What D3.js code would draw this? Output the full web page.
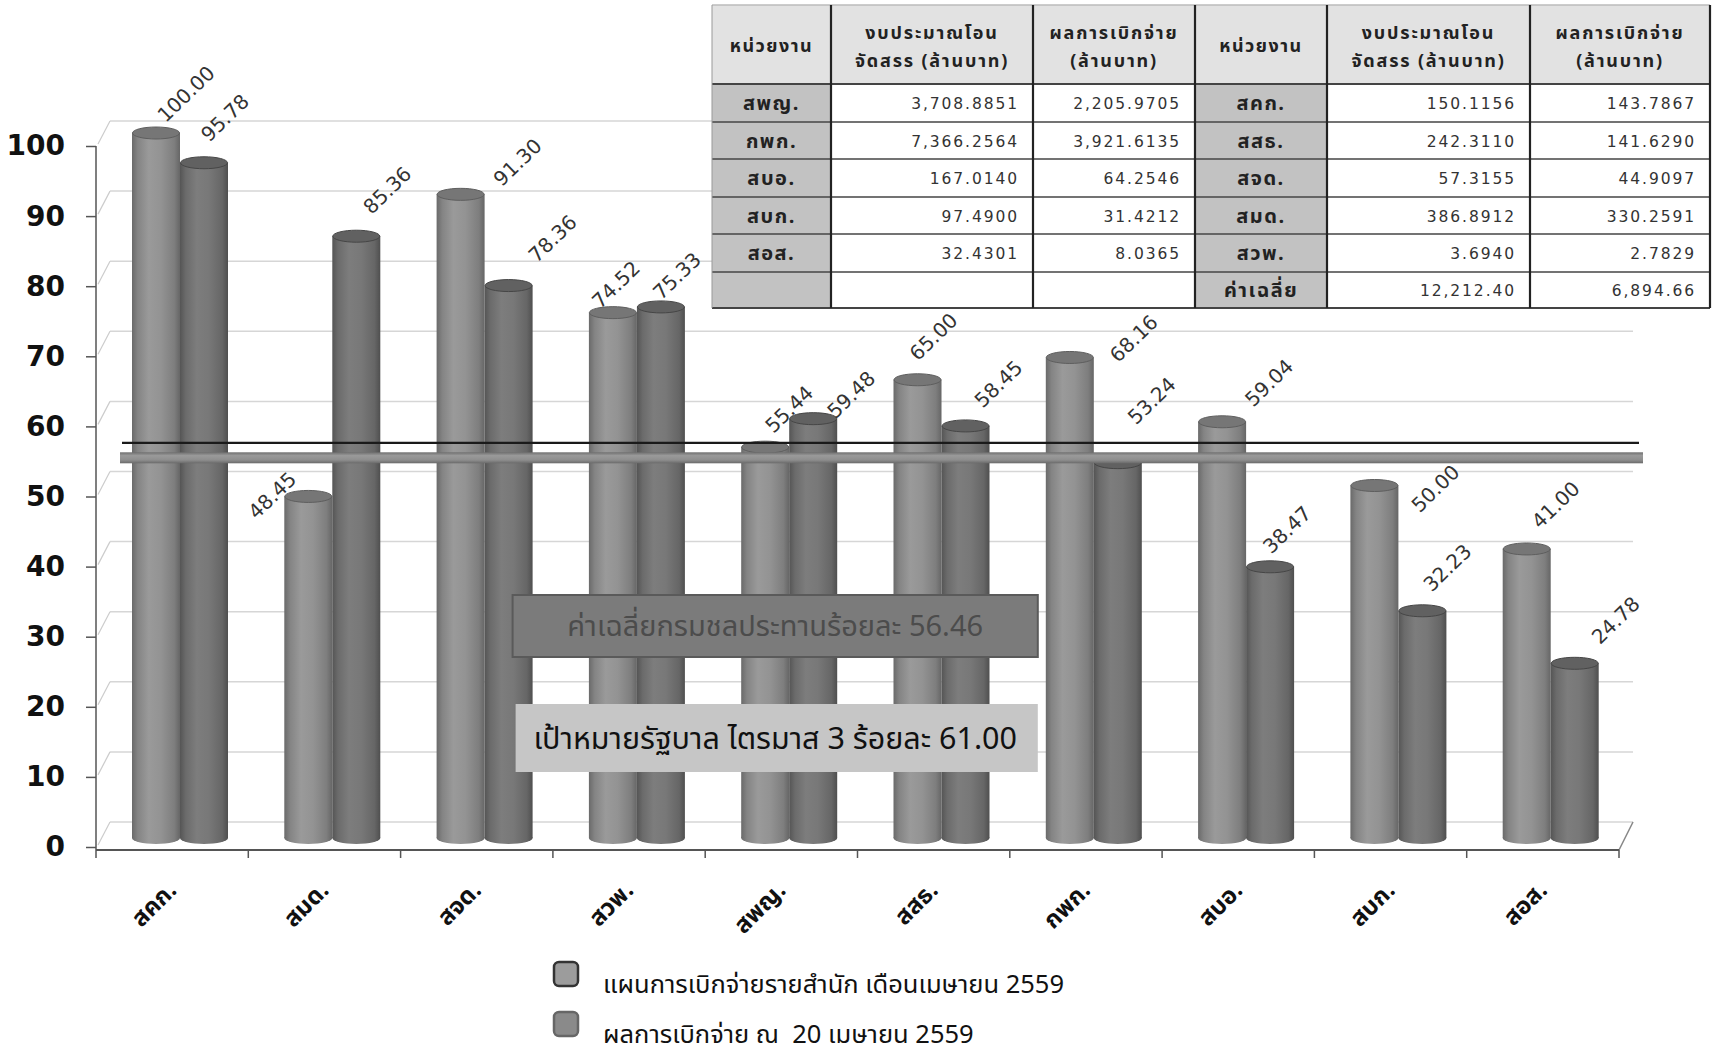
<!DOCTYPE html>
<html>
<head>
<meta charset="utf-8">
<script src="https://cdn.jsdelivr.net/npm/d3@7"></script>
<style>
  html, body { margin: 0; padding: 0; background: #ffffff; }
  svg { display: block; }
  .pre { white-space: pre; }
</style>
</head>
<body>
<svg id="chart" width="1717" height="1057"></svg>
<script>
// ---------------- DATA ----------------
const categories = ['สคก.', 'สมด.', 'สจด.', 'สวพ.', 'สพญ.', 'สสธ.', 'กพก.', 'สบอ.', 'สบก.', 'สอส.'];
const planValues = [100.00, 48.45, 91.30, 74.52, 55.44, 65.00, 68.16, 59.04, 50.00, 41.00];
const actualValues = [95.78, 85.36, 78.36, 75.33, 59.48, 58.45, 53.24, 38.47, 32.23, 24.78];
const yTickValues = [0, 10, 20, 30, 40, 50, 60, 70, 80, 90, 100];
const seriesNames = ['แผนการเบิกจ่ายรายสำนัก เดือนเมษายน 2559', 'ผลการเบิกจ่าย ณ  20 เมษายน 2559'];
const averageLineValue = 56.46;
const thickLineValue = 54.0;
const averageText = 'ค่าเฉลี่ยกรมชลประทานร้อยละ 56.46';
const targetText = 'เป้าหมายรัฐบาล ไตรมาส 3 ร้อยละ 61.00';

const tableHeaderUnit = 'หน่วยงาน';
const tableHeaderBudget = ['งบประมาณโอน', 'จัดสรร (ล้านบาท)'];
const tableHeaderPaid = ['ผลการเบิกจ่าย', '(ล้านบาท)'];
const tableUnitsLeft = ['สพญ.', 'กพก.', 'สบอ.', 'สบก.', 'สอส.', ''];
const tableBudgetLeft = ['3,708.8851', '7,366.2564', '167.0140', '97.4900', '32.4301', ''];
const tablePaidLeft = ['2,205.9705', '3,921.6135', '64.2546', '31.4212', '8.0365', ''];
const tableUnitsRight = ['สคก.', 'สสธ.', 'สจด.', 'สมด.', 'สวพ.', 'ค่าเฉลี่ย'];
const tableBudgetRight = ['150.1156', '242.3110', '57.3155', '386.8912', '3.6940', '12,212.40'];
const tablePaidRight = ['143.7867', '141.6290', '44.9097', '330.2591', '2.7829', '6,894.66'];

// ---------------- LAYOUT / STYLE ----------------
const THAI = "Tahoma, 'Noto Sans Thai', 'Noto Sans Thai UI', Loma, Garuda, 'Noto Sans', 'DejaVu Sans', sans-serif";
const NUM = "'DejaVu Sans', Verdana, sans-serif";
const svg = d3.select('#chart');
const depth = { dx: 14, dy: -25 };

const x = d3.scaleBand().domain(categories).range([96, 1619]).paddingInner(0).paddingOuter(0);
const y = d3.scaleLinear().domain([0, 100]).range([847, 146]);
// bars sit half-way into the 3D depth (slight perspective enlargement)
const yBar = d3.scaleLinear().domain([0, 100]).range([838, 133]);
const sub = d3.scaleBand().domain(['plan', 'actual']).range([36, 132]);

const defs = svg.append('defs');
function cylGrad(id, stops) {
  const g = defs.append('linearGradient').attr('id', id).attr('x1', '0%').attr('x2', '100%').attr('y1', '0%').attr('y2', '0%');
  stops.forEach(s => g.append('stop').attr('offset', s[0]).attr('stop-color', s[1]));
}
cylGrad('gPlan', [[0, '#6a6a6a'], [0.12, '#848484'], [0.35, '#9a9a9a'], [0.6, '#939393'], [0.88, '#7e7e7e'], [1, '#666666']]);
cylGrad('gActual', [[0, '#555555'], [0.12, '#6b6b6b'], [0.35, '#7d7d7d'], [0.6, '#787878'], [0.88, '#666666'], [1, '#4f4f4f']]);
const vg = defs.append('linearGradient').attr('id', 'gThick').attr('x1', '0%').attr('x2', '0%').attr('y1', '0%').attr('y2', '100%');
[[0, '#6f6f6f'], [0.3, '#9a9a9a'], [0.7, '#8e8e8e'], [1, '#6a6a6a']].forEach(s => vg.append('stop').attr('offset', s[0]).attr('stop-color', s[1]));

// ---------------- GRID (3D back wall) ----------------
const grid = svg.append('g');
const x0 = x.range()[0], x1 = x.range()[1];
yTickValues.forEach(v => {
  grid.append('line').attr('x1', x0 + depth.dx).attr('x2', x1 + depth.dx)
    .attr('y1', y(v) + depth.dy).attr('y2', y(v) + depth.dy)
    .attr('stroke', '#d6d6d6').attr('stroke-width', 1.5);
  grid.append('line').attr('x1', x0 + 2).attr('x2', x0 + depth.dx)
    .attr('y1', y(v) - 2).attr('y2', y(v) + depth.dy)
    .attr('stroke', '#cccccc').attr('stroke-width', 1.2);
});
grid.append('line').attr('x1', x1).attr('x2', x1 + depth.dx)
  .attr('y1', y(0) + 3).attr('y2', y(0) + depth.dy)
  .attr('stroke', '#888').attr('stroke-width', 1.5);

// ---------------- AXES ----------------
const yAxis = svg.append('g').attr('transform', `translate(${x0},0)`)
  .call(d3.axisLeft(y).tickValues(yTickValues).tickSize(10).tickPadding(21).tickFormat(d3.format('d')));
yAxis.select('.domain').attr('stroke', '#555').attr('stroke-width', 1.5).attr('d', `M-0,${y(100)}V${y(0) + 3}`);
yAxis.selectAll('.tick line').attr('stroke', '#555').attr('stroke-width', 1.5);
yAxis.selectAll('.tick text').attr('font-family', "'DejaVu Sans', sans-serif").attr('font-weight', 'bold')
  .attr('font-size', 28).attr('fill', '#111');

const xAxisG = svg.append('g').attr('transform', `translate(0,${y(0) + 3})`);
xAxisG.append('line').attr('x1', x0).attr('x2', x1).attr('stroke', '#555').attr('stroke-width', 2);
xAxisG.selectAll('line.tk').data(categories.concat([null])).join('line').attr('class', 'tk')
  .attr('x1', (d, i) => x0 + i * x.bandwidth()).attr('x2', (d, i) => x0 + i * x.bandwidth())
  .attr('y1', 0).attr('y2', 8).attr('stroke', '#555').attr('stroke-width', 1.5);
xAxisG.selectAll('text.cat').data(categories).join('text').attr('class', 'cat')
  .attr('transform', d => `translate(${x(d) + x.bandwidth() / 2 + 1},${37}) rotate(-45)`)
  .attr('text-anchor', 'end').attr('dominant-baseline', 'middle')
  .attr('font-family', THAI).attr('font-weight', 'bold').attr('font-size', 24).attr('fill', '#111')
  .text(d => d);

// ---------------- BARS (cylinders) ----------------
const ry = 6;
const series = [
  { key: 'plan', values: planValues, grad: 'url(#gPlan)', cap: '#767676', capEdge: '#5e5e5e' },
  { key: 'actual', values: actualValues, grad: 'url(#gActual)', cap: '#616161', capEdge: '#464646' }
];
const barsG = svg.append('g');
categories.forEach((c, i) => {
  series.forEach(s => {
    const v = s.values[i];
    const cx = x(c) + sub(s.key) + sub.bandwidth() / 2;
    const rx = sub.bandwidth() / 2;
    const yt = yBar(v), yb = yBar(0);
    const g = barsG.append('g');
    g.append('ellipse').attr('cx', cx).attr('cy', yb).attr('rx', rx).attr('ry', ry).attr('fill', s.grad);
    g.append('rect').attr('x', cx - rx).attr('y', yt).attr('width', rx * 2).attr('height', yb - yt).attr('fill', s.grad);
    g.append('ellipse').attr('cx', cx).attr('cy', yt).attr('rx', rx - 0.5).attr('ry', ry)
      .attr('fill', s.cap).attr('stroke', s.capEdge).attr('stroke-width', 1);
  });
});

// ---------------- REFERENCE LINES ----------------
svg.append('rect').attr('x', x0 + 24).attr('width', x1 + 24 - (x0 + 24)).attr('y', yBar(thickLineValue) - 5).attr('height', 11)
  .attr('fill', 'url(#gThick)');
svg.append('line').attr('x1', x0 + 26).attr('x2', x1 + 20).attr('y1', yBar(averageLineValue) + 3).attr('y2', yBar(averageLineValue) + 3)
  .attr('stroke', '#1a1a1a').attr('stroke-width', 2.2);

// ---------------- DATA LABELS ----------------
const nudgePlan = [[30, -33], [-36, 5], [57, -26], [3, -22], [24, -32], [16, -37], [64, -13], [47, -33], [61, 9], [29, -38]];
const nudgeActual = [[21, -39], [31, -40], [44, -41], [16, -25], [38, -18], [33, -36], [34, -56], [17, -31], [25, -37], [41, -37]];
const lblG = svg.append('g');
categories.forEach((c, i) => {
  series.forEach(s => {
    const v = s.values[i];
    const cx = x(c) + sub(s.key) + sub.bandwidth() / 2;
    const top = yBar(v) - ry;
    const n = (s.key === 'plan' ? nudgePlan : nudgeActual)[i];
    lblG.append('text')
      .attr('transform', `translate(${cx + n[0]},${top + n[1]}) rotate(-44)`)
      .attr('text-anchor', 'middle').attr('dominant-baseline', 'central')
      .attr('font-family', NUM).attr('font-size', 20).attr('fill', '#333')
      .text(d3.format('.2f')(v));
  });
});

// ---------------- ANNOTATION BOXES ----------------
const boxX = x(categories[2]) + 112, boxW = x(categories[6]) + 28 - boxX;
svg.append('rect').attr('x', boxX).attr('y', 595).attr('width', boxW).attr('height', 62)
  .attr('fill', '#7b7b7b').attr('stroke', '#5a5a5a').attr('stroke-width', 2);
svg.append('text').attr('x', boxX + boxW / 2).attr('y', 627).attr('text-anchor', 'middle').attr('dominant-baseline', 'central')
  .attr('font-family', THAI).attr('font-size', 29).attr('fill', '#4c4c4c').text(averageText);
svg.append('rect').attr('x', boxX + 3).attr('y', 704).attr('width', boxW - 3).attr('height', 68)
  .attr('fill', '#c6c6c6');
svg.append('text').attr('x', boxX + boxW / 2).attr('y', 740).attr('text-anchor', 'middle').attr('dominant-baseline', 'central')
  .attr('font-family', THAI).attr('font-size', 30.5).attr('fill', '#111').text(targetText);

// ---------------- TABLE ----------------
const colX = [712, 831, 1033, 1195, 1327, 1530, 1710];
const rowY = [5, 84, 122, 159, 197, 234, 272, 308];
const tbl = svg.append('g');
for (let c = 0; c < 6; c++) {
  tbl.append('rect').attr('x', colX[c]).attr('y', rowY[0]).attr('width', colX[c + 1] - colX[c]).attr('height', rowY[1] - rowY[0])
    .attr('fill', '#e2e2e2');
}
const leftCols = [tableUnitsLeft, tableBudgetLeft, tablePaidLeft];
const rightCols = [tableUnitsRight, tableBudgetRight, tablePaidRight];
for (let r = 0; r < 6; r++) {
  [leftCols, rightCols].forEach((cols, side) => {
    const base = side * 3;
    tbl.append('rect').attr('x', colX[base]).attr('y', rowY[r + 1]).attr('width', colX[base + 1] - colX[base]).attr('height', rowY[r + 2] - rowY[r + 1])
      .attr('fill', '#c2c2c2');
    for (let k = 1; k < 3; k++) {
      tbl.append('rect').attr('x', colX[base + k]).attr('y', rowY[r + 1]).attr('width', colX[base + k + 1] - colX[base + k]).attr('height', rowY[r + 2] - rowY[r + 1])
        .attr('fill', '#ffffff');
    }
    const cy = (rowY[r + 1] + rowY[r + 2]) / 2;
    tbl.append('text').attr('x', (colX[base] + colX[base + 1]) / 2).attr('y', cy + 1)
      .attr('text-anchor', 'middle').attr('dominant-baseline', 'central')
      .attr('font-family', THAI).attr('font-weight', 'bold').attr('font-size', 20).attr('letter-spacing', 1.5).attr('fill', '#222')
      .text(cols[0][r]);
    for (let k = 1; k < 3; k++) {
      tbl.append('text').attr('x', colX[base + k + 1] - 14).attr('y', cy + 1)
        .attr('text-anchor', 'end').attr('dominant-baseline', 'central')
        .attr('font-family', NUM).attr('font-size', 15.5).attr('letter-spacing', 1.9).attr('fill', '#333')
        .text(cols[k][r]);
    }
  });
}
[0, 3].forEach(base => {
  tbl.append('text').attr('x', (colX[base] + colX[base + 1]) / 2).attr('y', 46)
    .attr('text-anchor', 'middle').attr('dominant-baseline', 'central')
    .attr('font-family', THAI).attr('font-weight', 'bold').attr('font-size', 18).attr('letter-spacing', 1.5).attr('fill', '#222').text(tableHeaderUnit);
  [tableHeaderBudget, tableHeaderPaid].forEach((lines, k) => {
    lines.forEach((ln, j) => {
      tbl.append('text').attr('x', (colX[base + k + 1] + colX[base + k + 2]) / 2).attr('y', 33 + j * 28)
        .attr('text-anchor', 'middle').attr('dominant-baseline', 'central')
        .attr('font-family', THAI).attr('font-weight', 'bold').attr('font-size', 18).attr('letter-spacing', 1.8).attr('fill', '#222').text(ln);
    });
  });
});
rowY.forEach((ry_, i) => {
  tbl.append('line').attr('x1', colX[0]).attr('x2', colX[6]).attr('y1', ry_).attr('y2', ry_)
    .attr('stroke', i === 0 ? '#bbb' : '#444').attr('stroke-width', i === 1 || i === 7 ? 2 : 1.3);
});
colX.forEach((cx_, i) => {
  tbl.append('line').attr('x1', cx_).attr('x2', cx_).attr('y1', rowY[0]).attr('y2', rowY[7])
    .attr('stroke', i === 0 ? '#999' : '#222').attr('stroke-width', i === 0 ? 1 : 2.2);
});

// ---------------- LEGEND ----------------
const leg = svg.append('g');
const legendFills = ['#9c9c9c', '#8a8a8a'];
const legendStrokes = ['#333', '#666'];
seriesNames.forEach((name, i) => {
  const ly = 962 + i * 50;
  leg.append('rect').attr('x', 554).attr('y', ly).attr('width', 24).attr('height', 24).attr('rx', 5)
    .attr('fill', legendFills[i]).attr('stroke', legendStrokes[i]).attr('stroke-width', 2.5);
  leg.append('text').attr('class', 'pre').attr('x', 603).attr('y', ly + 23).attr('dominant-baseline', 'central')
    .attr('font-family', THAI).attr('font-size', 25.5).attr('fill', '#111').text(name);
});
</script>
</body>
</html>
